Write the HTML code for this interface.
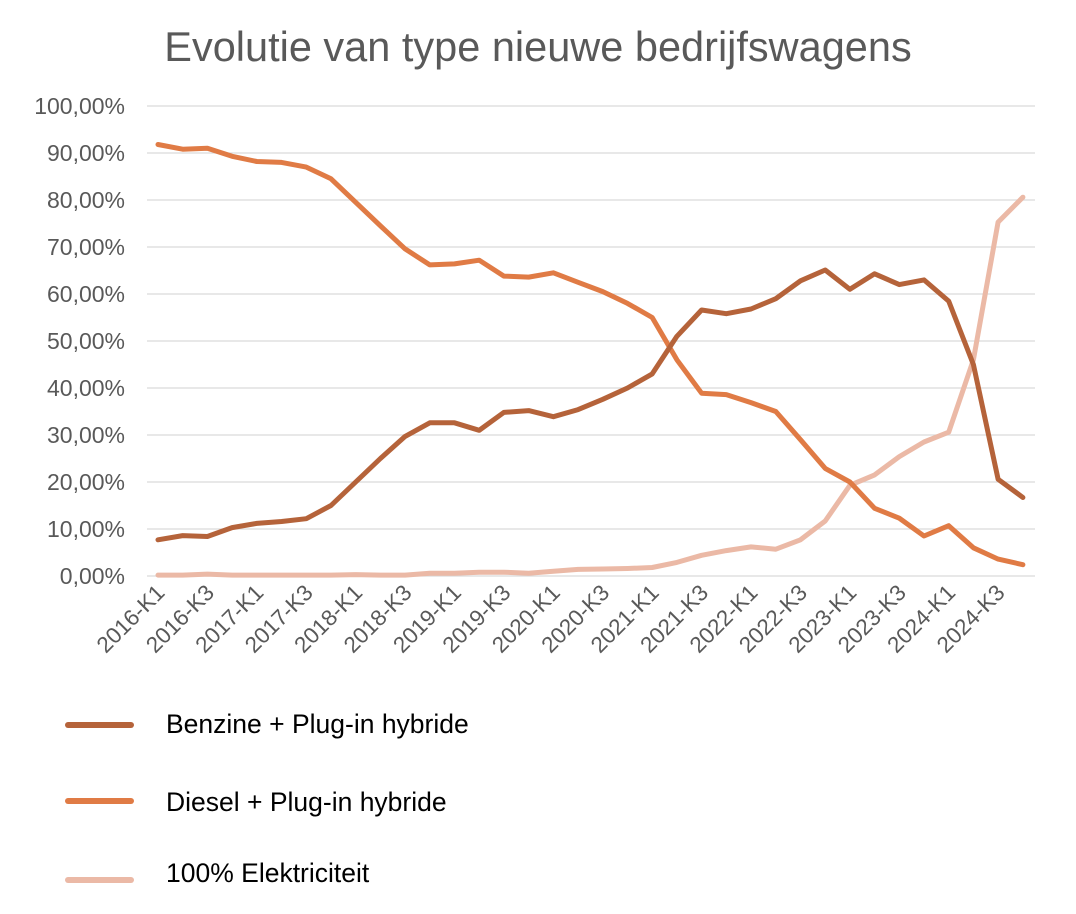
<!DOCTYPE html>
<html><head><meta charset="utf-8"><style>
body{margin:0;background:#fff}
svg{display:block;font-family:"Liberation Sans",Arial,sans-serif}
</style></head><body>
<svg id="s" width="1076" height="914" viewBox="0 0 1076 914" xmlns="http://www.w3.org/2000/svg">
<text x="538" y="61" text-anchor="middle" font-size="41.5" fill="#595959">Evolutie van type nieuwe bedrijfswagens</text>
<g id="grid"></g>
<g id="lines"></g>
<line x1="68" y1="725" x2="131" y2="725" stroke="#b5633a" stroke-width="6" stroke-linecap="round"/>
<text x="166" y="733" font-size="26.5" fill="#000">Benzine + Plug-in hybride</text>
<line x1="68" y1="801" x2="131" y2="801" stroke="#e07b45" stroke-width="6" stroke-linecap="round"/>
<text x="166" y="811" font-size="26.5" fill="#000">Diesel + Plug-in hybride</text>
<line x1="68" y1="880" x2="131" y2="880" stroke="#ebb9a6" stroke-width="6" stroke-linecap="round"/>
<text x="166" y="882" font-size="26.5" fill="#000">100% Elektriciteit</text>
</svg>
<script>
var NS="http://www.w3.org/2000/svg",g=document.getElementById("grid"),L=document.getElementById("lines");
function el(t,a,p,txt){var e=document.createElementNS(NS,t);for(var k in a)e.setAttribute(k,a[k]);if(txt)e.textContent=txt;p.appendChild(e);return e;}
function Y(v){return 576-v*4.7;}
for(var i=0;i<=10;i++){var y=Y(i*10);
el("line",{x1:147,x2:1035,y1:y,y2:y,stroke:"#d9d9d9","stroke-width":1.3},g);
el("text",{x:125,y:y+8,"text-anchor":"end","font-size":23,fill:"#595959"},g,(i*10)+",00%");}
var st=24.71,x0=158;function X(i){return x0+i*st;}
for(var i=0;i<36;i+=2){var yr=2016+Math.floor(i/4),q=(i%4)+1;
el("text",{x:0,y:0,"text-anchor":"end","font-size":22.5,fill:"#595959",transform:"translate("+(X(i)+8)+",594) rotate(-45)"},g,yr+"-K"+q);}
var B=[7.7,8.6,8.4,10.3,11.2,11.6,12.2,15,20,25,29.7,32.6,32.6,31,34.8,35.2,33.9,35.4,37.6,40,43,51,56.6,55.8,56.8,59,62.8,65.1,61,64.3,62,63,58.5,45,20.6,16.7];
var D=[91.8,90.8,91,89.3,88.2,88,87,84.5,79.5,74.5,69.6,66.2,66.4,67.2,63.8,63.6,64.5,62.5,60.5,58,55,46,38.9,38.6,36.9,35,29,22.9,20,14.4,12.3,8.5,10.7,6,3.6,2.4];
var E=[0.2,0.2,0.4,0.2,0.2,0.2,0.2,0.2,0.3,0.2,0.2,0.6,0.6,0.8,0.8,0.6,1,1.4,1.5,1.6,1.8,2.9,4.4,5.4,6.2,5.7,7.7,11.7,19.3,21.5,25.4,28.5,30.6,46,75.3,80.6];
function path(d,c){var s="";d.forEach(function(v,i){s+=(i?"L":"M")+X(i).toFixed(1)+","+Y(v).toFixed(1);});
el("path",{d:s,fill:"none",stroke:c,"stroke-width":5,"stroke-linejoin":"round","stroke-linecap":"round"},L);}
path(E,"#ebb9a6");path(D,"#e07b45");path(B,"#b5633a");
</script>
</body></html>
